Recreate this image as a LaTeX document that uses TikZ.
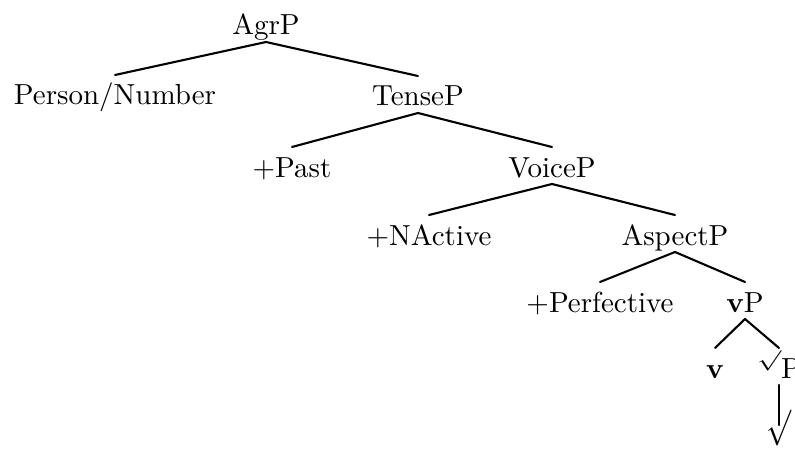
\documentclass[tikz,border=0pt]{standalone}
\usepackage{graphicx}
\newcommand\tx[1]{\scalebox{2.9}{#1}}
% radical signs, squeezed to the sizes used in the tree
\newcommand\smallsurd{\raisebox{4.3pt}{\scalebox{1.0}[0.7]{$\surd$}}}
\newcommand\bigsurd{\raisebox{6.3pt}{\scalebox{1.03}[1.24]{$\surd$}}}
\tikzset{
  lab/.style={anchor=base, inner sep=0pt, outer sep=0pt,
              text height=30pt, text depth=7pt},
  branch/.style={line width=2.1pt, line cap=round}
}
\begin{document}
\begin{tikzpicture}[x=1pt,y=-1pt]
  \useasboundingbox (0,0) rectangle (795,476);

  % labels of the tree, placed on their baselines
  \node[lab] (agr)   at (266,35)  {\tx{AgrP}};
  \node[lab] (pn)    at (115,105) {\tx{Person/Number}};
  \node[lab] (tense) at (418,106) {\tx{TenseP}};
  \node[lab] (past)  at (292,177) {\tx{+Past}};
  \node[lab] (voice) at (552,177) {\tx{VoiceP}};
  \node[lab] (nact)  at (429,245) {\tx{+NActive}};
  \node[lab] (asp)   at (675,245) {\tx{AspectP}};
  \node[lab] (perf)  at (600,312) {\tx{+Perfective}};
  \node[lab] (vp)    at (745,312) {\tx{\textbf{v}P}};
  \node[lab] (v)     at (715,378) {\tx{\textbf{v}}};
  \node[lab] (rp)    at (779,378) {\tx{\smallsurd P}};
  \node[lab] (r)     at (779,455) {\tx{\bigsurd}};

  % branches
  \draw[branch] (agr.south)   -- (pn.north);
  \draw[branch] (agr.south)   -- (tense.north);
  \draw[branch] (tense.south) -- (past.north);
  \draw[branch] (tense.south) -- (voice.north);
  \draw[branch] (voice.south) -- (nact.north);
  \draw[branch] (voice.south) -- (asp.north);
  \draw[branch] (asp.south)   -- (perf.north);
  \draw[branch] (asp.south)   -- (vp.north);
  \draw[branch] (vp.south)    -- (v.north);
  \draw[branch] (vp.south)    -- (rp.north);
  \draw[branch] (rp.south)    -- (r.north);
\end{tikzpicture}
\end{document}
